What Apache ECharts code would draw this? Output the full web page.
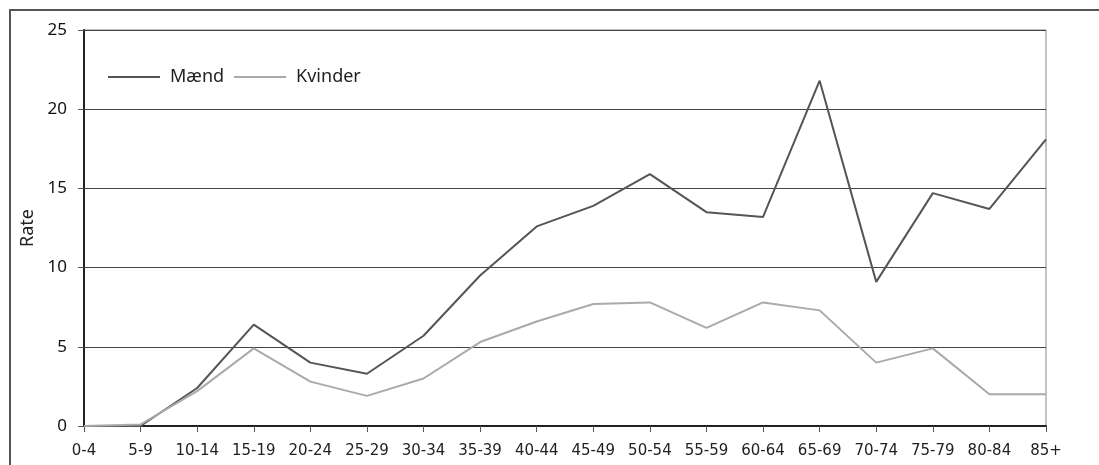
<!DOCTYPE html>
<html>
<head>
<meta charset="utf-8">
<script src="https://cdn.jsdelivr.net/npm/echarts@6/dist/echarts.min.js"></script>
<style>
  html, body { margin: 0; padding: 0; background: #fff; }
  #chart { width: 1099px; height: 465px; }
</style>
</head>
<body>
<div id="chart"></div>
<script>
// aldersgrupper
const ageGroups = ['0-4', '5-9', '10-14', '15-19', '20-24', '25-29', '30-34', '35-39', '40-44',
  '45-49', '50-54', '55-59', '60-64', '65-69', '70-74', '75-79', '80-84', '85+']

const maend = [0, 0, 2.4, 6.4, 4.0, 3.3, 5.7, 9.5, 12.6, 13.9, 15.9, 13.5, 13.2, 21.8, 9.1, 14.7, 13.7, 18.1]
const kvinder = [0, 0.1, 2.2, 4.9, 2.8, 1.9, 3.0, 5.3, 6.6, 7.7, 7.8, 6.2, 7.8, 7.3, 4.0, 4.9, 2.0, 2.0]

const sansFont = '"Noto Sans", "DejaVu Sans", sans-serif'
const labelFont = '"DejaVu Sans", sans-serif'

const chart = echarts.init(document.getElementById('chart'))

chart.setOption({
  animation: false,
  backgroundColor: '#fff',
  textStyle: { fontFamily: sansFont },
  // ydre ramme
  graphic: [{
    type: 'rect',
    shape: { x: 10, y: 10, width: 1200, height: 600 },
    style: { fill: 'none', stroke: '#555', lineWidth: 2 },
    silent: true
  }],
  grid: {
    left: 84, right: 53, top: 30, bottom: 39,
    show: true, borderColor: '#888', borderWidth: 1, backgroundColor: 'transparent'
  },
  legend: {
    left: 103, top: 63,
    icon: 'rect', itemWidth: 52, itemHeight: 2, itemGap: 10,
    textStyle: { fontSize: 18, color: '#222', fontFamily: sansFont, padding: [0, 0, 0, 5] },
    data: ['Mænd', 'Kvinder']
  },
  xAxis: {
    type: 'category',
    data: ageGroups,
    boundaryGap: false,
    axisLine: { lineStyle: { color: '#222', width: 2 } },
    axisTick: { show: true, length: 6, lineStyle: { color: '#555' } },
    axisLabel: { color: '#222', fontSize: 15, fontFamily: labelFont, margin: 18, interval: 0 },
    splitLine: { show: false }
  },
  yAxis: {
    type: 'value',
    min: 0, max: 25, interval: 5,
    name: 'Rate',
    nameLocation: 'middle',
    nameGap: 44,
    nameTextStyle: { fontSize: 18, color: '#222', fontFamily: sansFont },
    axisLine: { show: true, lineStyle: { color: '#222', width: 2 } },
    axisTick: { show: true, length: 6, lineStyle: { color: '#555' } },
    axisLabel: { color: '#111', fontSize: 17, fontFamily: sansFont, margin: 17 },
    splitLine: { show: true, lineStyle: { color: '#444', width: 1 } }
  },
  series: [
    {
      name: 'Mænd', type: 'line', data: maend,
      symbol: 'none', color: '#555',
      lineStyle: { color: '#555', width: 2 }
    },
    {
      name: 'Kvinder', type: 'line', data: kvinder,
      symbol: 'none', color: '#aaa',
      lineStyle: { color: '#aaa', width: 2 }
    }
  ]
})
</script>
</body>
</html>
